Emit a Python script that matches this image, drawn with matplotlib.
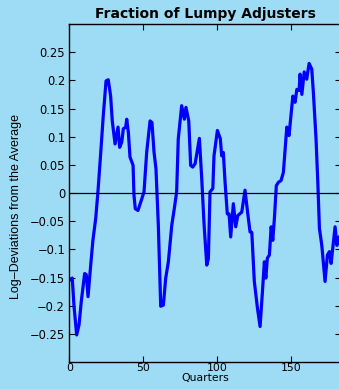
import matplotlib
matplotlib.use('Agg')
import matplotlib.pyplot as plt

# Quarters and log-deviations of the fraction of lumpy adjusters
quarters = [0, 2, 3.2, 5, 6.6, 8.1, 10.4, 11.5, 12.7, 14.5, 16, 17.9, 19.4, 21.3, 23,
            24.9, 26.4, 28, 29.1, 31, 33, 34.1, 35.5, 36.6, 38.2, 38.9, 40, 41.1,
            43.2, 43.8, 44.7, 46.5, 48.4, 50.6, 52.4, 54.7, 56, 57.4, 58.7, 60.3,
            61.9, 63.7, 65.3, 67.1, 69.4, 71.1, 72.7, 73.8, 76.1, 77.9, 79, 80.9,
            82.2, 83.6, 85.2, 88.1, 89.7, 91.3, 93.1, 94.2, 95.3, 97.2, 98, 100.3,
            102.3, 103.2, 104.3, 105.5, 107, 108.2, 109.3, 111.1, 112.7, 114.1,
            116.8, 119, 120.6, 122.4, 123.6, 125.3, 127.4, 129.2, 130.8, 132.1,
            133.1, 134.1, 135.5, 136.7, 137.8, 138.9, 140.2, 141.6, 143.4, 145,
            147.3, 148.8, 151.4, 152.9, 154.1, 155.6, 156.3, 157.5, 159.1, 160.8,
            162.4, 164.2, 165.3, 167.1, 168.3, 169.4, 171, 173.2, 174.8, 176.2,
            177.3, 180, 181.2, 182.6, 184]
deviation = [-0.155, -0.151, -0.201, -0.252, -0.234, -0.193, -0.143, -0.145, -0.184,
             -0.128, -0.084, -0.045, 0.002, 0.072, 0.137, 0.199, 0.201, 0.172, 0.128,
             0.087, 0.117, 0.081, 0.090, 0.114, 0.117, 0.131, 0.108, 0.064, 0.049,
             -0.004, -0.028, -0.031, -0.016, 0.002, 0.072, 0.128, 0.125, 0.072, 0.043,
             -0.057, -0.201, -0.199, -0.151, -0.122, -0.057, -0.028, 0.002, 0.096,
             0.155, 0.131, 0.152, 0.128, 0.049, 0.046, 0.052, 0.097, 0.025, -0.057,
             -0.128, -0.116, 0.002, 0.008, 0.066, 0.111, 0.096, 0.066, 0.072, 0.019,
             -0.037, -0.037, -0.078, -0.019, -0.060, -0.040, -0.034, 0.005, -0.031,
             -0.069, -0.070, -0.157, -0.204, -0.237, -0.175, -0.122, -0.151, -0.116,
             -0.110, -0.060, -0.084, -0.045, 0.013, 0.019, 0.022, 0.037, 0.117, 0.102,
             0.172, 0.161, 0.184, 0.182, 0.211, 0.175, 0.215, 0.202, 0.230, 0.220,
             0.178, 0.096, 0.019, -0.063, -0.093, -0.157, -0.110, -0.104, -0.125,
             -0.060, -0.093, -0.078, -0.085]

bg = '#9edcf6'
plt.rcParams['font.family'] = 'DejaVu Sans'

fig = plt.figure(figsize=(3.39, 3.89), dpi=100, facecolor=bg)
ax = fig.add_axes([0.2044, 0.0694, 0.8015, 0.8689], facecolor=bg)

ax.plot(quarters, deviation, color='#0000ff', lw=2.3)
ax.axhline(0, color='black', lw=0.9)

ax.set_xlim(0, 184)
ax.set_ylim(-0.3, 0.3)
ax.set_xticks([0, 50, 100, 150])
ax.set_yticks([-0.25, -0.2, -0.15, -0.1, -0.05, 0, 0.05, 0.1, 0.15, 0.2, 0.25])
ax.set_yticklabels(['\u22120.25', '\u22120.2', '\u22120.15', '\u22120.1', '\u22120.05', '0',
                    '0.05', '0.1', '0.15', '0.2', '0.25'])
ax.tick_params(direction='in', length=4, width=0.8, labelsize=8.3,
               top=True, right=True, pad=3)
ax.tick_params(axis='x', pad=1, labelsize=7.8)
for s in ax.spines.values():
    s.set_linewidth(1.0)

ax.set_title('Fraction of Lumpy Adjusters', fontsize=10, fontweight='bold', pad=4)
ax.set_xlabel('Quarters', fontsize=7.8, labelpad=0)
ax.set_ylabel('Log\u2013Deviations from the Average', fontsize=9,
              family='Liberation Sans')
ax.yaxis.set_label_coords(-0.175, 0.46)

fig.savefig('out.png', dpi=100, facecolor=bg)
